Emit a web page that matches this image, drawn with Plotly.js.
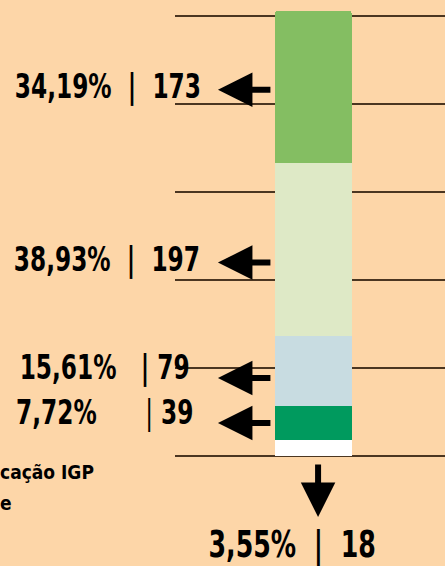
<!DOCTYPE html>
<html>
<head>
<meta charset="utf-8">
<script src="https://cdn.plot.ly/plotly-3.0.1.min.js"></script>
<style>
  html, body { margin: 0; padding: 0; background: #fdd6a8; }
  #plot { width: 445px; height: 566px; }
</style>
</head>
<body>
<div id="plot"></div>
<script>
// segmentos de baixo para cima
const percents = ['3,55%', '7,72%', '15,61%', '38,93%', '34,19%'];
const counts = [18, 39, 79, 197, 173];
const colors = ['#ffffff', '#009a5e', '#c8dce1', '#dee9c6', '#84be62'];
const legendLines = ['cação IGP', 'e'];

const BIG = 'DejaVu Sans Condensed, sans-serif';
const NARROW = 0.76; // a fonte original é bem mais estreita

const traces = counts.map((v, i) => ({
  type: 'bar',
  x: [0],
  y: [v],
  width: 1,
  marker: { color: colors[i], line: { width: 0 } },
  hoverinfo: 'none',
  showlegend: false
}));

// meio de cada segmento
const mids = [];
let acc = 0;
counts.forEach(v => { mids.push(acc + v / 2); acc += v; });

const annotations = [];

// setas à esquerda (segmentos 1..4)
const arrowShift = [0, 0, -7, -13, -3];
const labelShift = [0, 11, 4, -9, 1];
const labelRight = [0, 196, 192, 202, 203];
const labelText = [
  null,
  percents[1] + '      <span style="font-weight:normal">|</span> ' + counts[1],
  percents[2] + '   | ' + counts[2],
  percents[3] + '  |  ' + counts[3],
  percents[4] + '  |  ' + counts[4]
];

for (let i = 1; i < counts.length; i++) {
  annotations.push({
    x: -1.242, y: mids[i], xref: 'x', yref: 'y',
    text: '', showarrow: true,
    arrowhead: 2, arrowwidth: 6, arrowsize: 1.15, arrowcolor: '#000',
    ax: 54, ay: 0, yshift: arrowShift[i]
  });
  annotations.push({
    x: (labelRight[i] - 175) / 270, xref: 'paper', xanchor: 'right',
    y: mids[i], yref: 'y', yanchor: 'middle', yshift: labelShift[i],
    text: labelText[i], showarrow: false,
    font: { family: BIG, size: 34, color: '#000', weight: 'bold' }
  });
}

// seta para baixo (segmento branco)
annotations.push({
  x: 0.06, y: (456 - 517) / 456, xref: 'x', yref: 'paper',
  text: '', showarrow: true,
  arrowhead: 2, arrowwidth: 6, arrowsize: 1.15, arrowcolor: '#000',
  ax: 0, ay: -54
});
annotations.push({
  x: (292 - 175) / 270, xref: 'paper', xanchor: 'center',
  y: (456 - 544) / 456, yref: 'paper', yanchor: 'middle',
  text: percents[0] + '  |  ' + counts[0], showarrow: false,
  font: { family: BIG, size: 37, color: '#000', weight: 'bold' }
});

// legenda cortada à esquerda
legendLines.forEach((t, i) => {
  annotations.push({
    x: -175 / 270, xref: 'paper', xanchor: 'left', xshift: -2,
    y: (456 - [472, 503][i]) / 456, yref: 'paper', yanchor: 'middle',
    text: t, showarrow: false,
    font: { family: 'DejaVu Sans Condensed, sans-serif', size: 19, color: '#000', weight: 'bold' }
  });
});

const layout = {
  width: 445,
  height: 566,
  margin: { l: 175, r: 0, t: 0, b: 110 },
  paper_bgcolor: '#fdd6a8',
  plot_bgcolor: '#fdd6a8',
  barmode: 'stack',
  barcornerradius: 4,
  showlegend: false,
  xaxis: {
    range: [-1.8, 1.71],
    showgrid: false, zeroline: false, showticklabels: false, ticks: '', showline: false
  },
  yaxis: {
    range: [0, 518],
    dtick: 100,
    showgrid: true, gridcolor: '#4b3621', gridwidth: 1.5,
    zeroline: true, zerolinecolor: '#4b3621', zerolinewidth: 1.5,
    showticklabels: false, ticks: '', showline: false
  },
  annotations: annotations
};

Plotly.newPlot('plot', traces, layout, { staticPlot: true, displayModeBar: false }).then(gd => {
  // estreita os rótulos grandes, mantendo a âncora
  gd.querySelectorAll('g.annotation').forEach(g => {
    const a = annotations[+g.getAttribute('data-index')];
    if (!a.text || a.font.size < 30) return;
    const t = g.querySelector('text.annotation-text');
    t.style.transformBox = 'fill-box';
    t.style.transformOrigin = a.xanchor === 'right' ? 'right center' : 'center';
    t.style.transform = 'scaleX(' + NARROW + ')';
  });
});
</script>
</body>
</html>
